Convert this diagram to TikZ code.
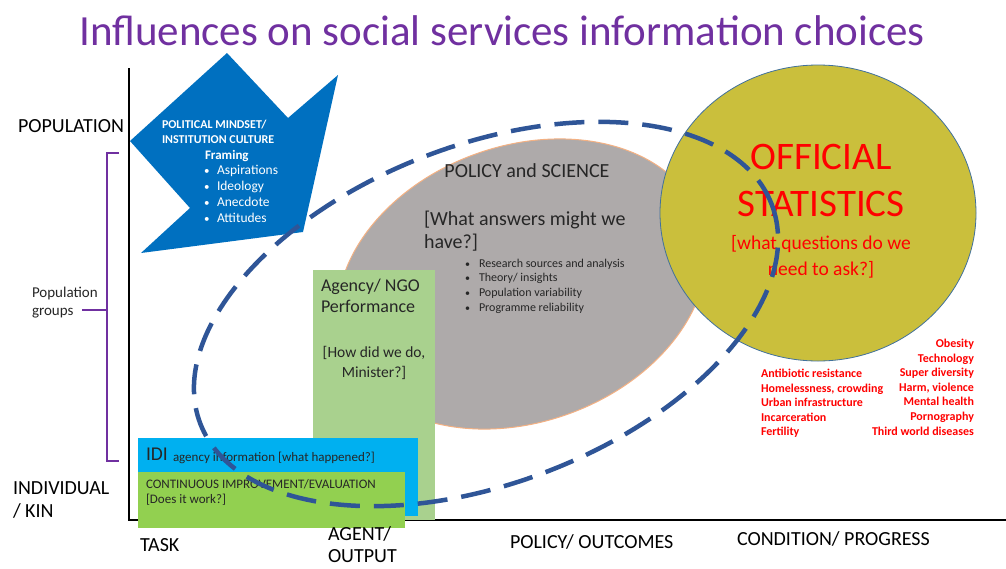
\documentclass[tikz,border=0pt]{standalone}
\usepackage{fontspec}
\setmainfont{Carlito}
\definecolor{ttl}{HTML}{7030A0}
\definecolor{dashb}{HTML}{2F5597}
\definecolor{blueshape}{HTML}{0070C0}
\definecolor{grayell}{HTML}{AEAAAA}
\definecolor{grayedge}{HTML}{F4B183}
\definecolor{yell}{RGB}{202,191,60}
\definecolor{yelledge}{HTML}{41719C}
\definecolor{agency}{HTML}{A9D18E}
\definecolor{idi}{HTML}{00B0F0}
\definecolor{ci}{HTML}{92D050}
\definecolor{redt}{HTML}{FF0000}
\newcommand\fsz[2]{\fontsize{#1}{#2}\selectfont}
\begin{document}
\begin{tikzpicture}[x=1pt,y=-1pt,
  every node/.style={inner sep=0pt,outer sep=0pt},
  axlbl/.style={font=\fsz{20}{24},anchor=mid west,text=black},
  whitetxt/.style={text=white,anchor=mid west},
  graytxt/.style={text=black!85,anchor=mid west},
  redl/.style={text=redt,font=\bfseries\fsz{12}{14},anchor=mid west},
  redr/.style={text=redt,font=\bfseries\fsz{12}{14},anchor=mid east}
]
\useasboundingbox[fill=white] (0,0) rectangle (1006,568);

% title
\node[font=\fsz{43}{50},text=ttl,anchor=base] (title) at (502,45) {Influences on social services information choices};

% axes
\coordinate (ytop) at (129,68);
\coordinate (orig) at (129,520);
\coordinate (xend) at (1006,520);
\draw[line width=2.6pt,black] (ytop) -- (orig) -- (xend);

% gray ellipse
\draw[grayedge,fill=grayell,line width=1pt,rotate around={20:(522,284)}] (522,284) ellipse [x radius=190, y radius=138];
% yellow ellipse
\draw[yelledge,fill=yell,line width=0.8pt] (818,213) ellipse [x radius=158, y radius=148];

% boxes
\node[fill=agency,anchor=north west,minimum width=122pt,minimum height=250pt] (agencybox) at (313,270) {};
\node[fill=idi,anchor=north west,minimum width=280pt,minimum height=78pt] (idibox) at (138,438) {};
\node[fill=ci,anchor=north west,minimum width=267pt,minimum height=56pt] (cibox) at (138,472) {};

% blue shape
\fill[blueshape] (130,141) -- (227,53) -- (288,118) -- (338,75) -- (303,232) -- (141,253) -- (190,208) -- cycle;
\node[whitetxt,font=\bfseries\fsz{12}{14}] (pm1) at (162,126) {POLITICAL MINDSET/};
\node[whitetxt,font=\bfseries\fsz{12}{14}] (pm2) at (162,141) {INSTITUTION CULTURE};
\node[whitetxt,font=\bfseries\fsz{13}{15}] (frm) at (205,157) {Framing};
\foreach \t [count=\i] in {Aspirations,Ideology,Anecdote,Attitudes}{
  \node[whitetxt,font=\fsz{11}{15}] (fb\i) at (204,156+16*\i) {\textbullet};
  \node[whitetxt,font=\fsz{13.5}{15}] (ft\i) at (217,156+16*\i) {\t};
}

% policy and science
\node[graytxt,font=\fsz{20}{24},anchor=mid] (pas) at (527,175) {POLICY and SCIENCE};
\node[graytxt,font=\fsz{20}{24}] (wa1) at (424,223) {[What answers might we};
\node[graytxt,font=\fsz{20}{24}] (wa2) at (424,246) {have?]};
\foreach \t [count=\i] in {Research sources and analysis,Theory/ insights,Population variability,Programme reliability}{
  \node[graytxt,font=\fsz{10}{14}] (pb\i) at (465,250+14.7*\i) {\textbullet};
  \node[graytxt,font=\fsz{12}{14}] (pt\i) at (479,250+14.7*\i) {\t};
}

% agency text
\node[graytxt,font=\fsz{18}{22}] (ag1) at (321,289) {Agency/ NGO};
\node[graytxt,font=\fsz{18}{22}] (ag2) at (321,310) {Performance};
\node[graytxt,font=\fsz{15.5}{18},anchor=mid] (ag3) at (374,355) {[How did we do,};
\node[graytxt,font=\fsz{15.5}{18},anchor=mid] (ag4) at (374,375) {Minister?]};

% IDI text
\node[graytxt,font=\fsz{19.5}{22}] (idi1) at (146,458) {IDI};
\node[graytxt,font=\fsz{13}{15}] (idi2) at (173,459) {agency information [what happened?]};
\node[graytxt,font=\fsz{13}{15}] (ci1) at (146,486) {CONTINUOUS IMPROVEMENT/EVALUATION};
\node[graytxt,font=\fsz{13}{15}] (ci2) at (146,501) {[Does it work?]};

% official statistics
\node[text=redt,font=\fsz{39}{44},anchor=mid] (os1) at (821,167) {OFFICIAL};
\node[text=redt,font=\fsz{39}{44},anchor=mid] (os2) at (821,214) {STATISTICS};
\node[text=redt,font=\fsz{19.5}{22},anchor=mid] (os3) at (821,247) {[what questions do we};
\node[text=redt,font=\fsz{19.5}{22},anchor=mid] (os4) at (821,273) {need to ask?]};

% red lists
\foreach \t [count=\i] in {Antibiotic resistance,{Homelessness, crowding},Urban infrastructure,Incarceration,Fertility}{
  \node[redl] (rl\i) at (761,360.5+14.6*\i) {\t};
}
\foreach \t [count=\i] in {Obesity,Technology,Super diversity,{Harm, violence},Mental health,Pornography,Third world diseases}{
  \node[redr] (rr\i) at (974,330.5+14.6*\i) {\t};
}

% axis labels
\node[axlbl] (lpop) at (18,130) {POPULATION};
\node[axlbl] (lind1) at (13,492) {INDIVIDUAL};
\node[axlbl] (lind2) at (13,515) {/ KIN};
\node[axlbl] (ltask) at (140,549) {TASK};
\node[axlbl] (lag1) at (328,538) {AGENT/};
\node[axlbl] (lag2) at (328,560) {OUTPUT};
\node[axlbl] (lpol) at (510,546) {POLICY/ OUTCOMES};
\node[axlbl] (lcon) at (737,543) {CONDITION/ PROGRESS};

% population groups bracket
\coordinate (bt) at (119,153);
\coordinate (btv) at (107,153);
\coordinate (bbv) at (107,461);
\coordinate (bb) at (119,461);
\coordinate (bm) at (107,310);
\coordinate (bml) at (82,310);
\draw[ttl,line width=2.2pt] (bt) -- (btv) -- (bbv) -- (bb);
\draw[ttl,line width=2.2pt] (bm) -- (bml);
\node[graytxt,font=\fsz{15}{18}] (pg1) at (32,295) {Population};
\node[graytxt,font=\fsz{15}{18}] (pg2) at (32,313) {groups};

% dashed ellipse
\draw[dashb,line width=4.5pt,dash pattern=on 30pt off 14pt,rotate around={21:(486,314)}] (486,314) ellipse [x radius=306, y radius=169];
\end{tikzpicture}
\end{document}
